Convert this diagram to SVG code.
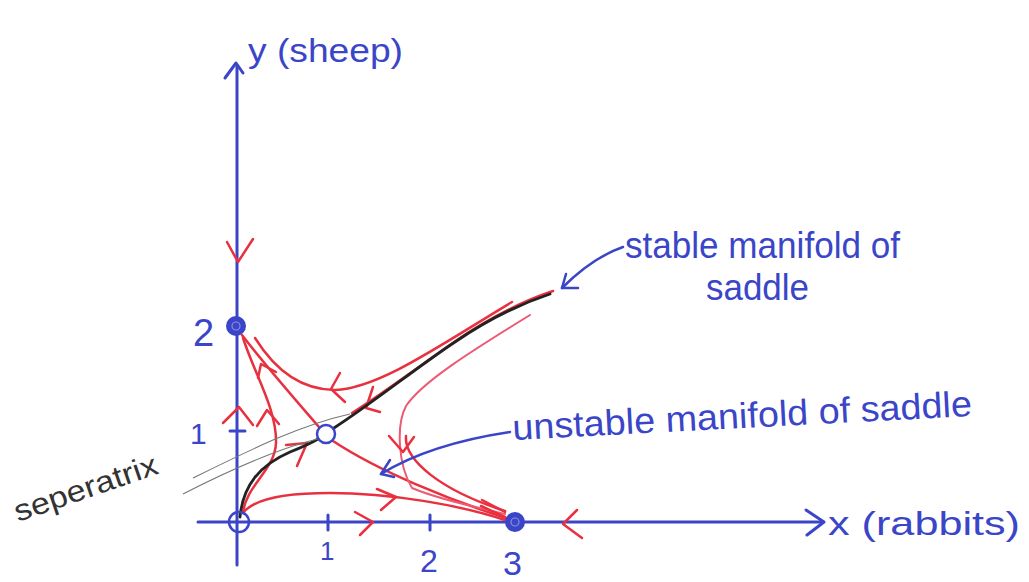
<svg xmlns="http://www.w3.org/2000/svg" width="1029" height="582" viewBox="0 0 1029 582">
<style>
.ax{stroke:#3a45c8;stroke-width:3;fill:none;stroke-linecap:round;stroke-linejoin:round}
.bl{stroke:#3a45c8;stroke-width:2.5;fill:none;stroke-linecap:round;stroke-linejoin:round}
.rd{stroke:#e8303f;stroke-width:2.5;fill:none;stroke-linecap:round;stroke-linejoin:round}
.pk{stroke:#ee5a72;stroke-width:2;fill:none;stroke-linecap:round}
.bk{stroke:#222;stroke-width:2.8;fill:none;stroke-linecap:round}
.gr{stroke:#777;stroke-width:1.1;fill:none}
.t{font-family:"Liberation Sans",Arial,sans-serif;fill:#3a45c8}
.ts{font-family:"Liberation Sans",Arial,sans-serif;fill:#333}
</style>
<rect width="1029" height="582" fill="#fff"/>
<g id="axes">
<path class="ax" d="M237,565 L237,66"/>
<path class="ax" d="M225,78 L236,63 L243,73"/>
<path class="ax" d="M198,522 L822,522"/>
<path class="ax" d="M806,510 L824,522 L807,535"/>
<path class="ax" d="M230,431 L245,431 M328,515 L328,530 M430,515 L430,530"/>
</g>
<g id="connectors">
<path class="rd" d="M242,335 C265,365 300,405 319,427"/>
<path class="rd" d="M333,441 C380,472 450,500 506,518"/>
<path class="rd" d="M243,513 C246,485 275,470 276,443 C277,410 255,375 243,338"/>
<path class="rd" d="M257,426 L267,410 L279,424"/>
<path class="rd" d="M258,378 L261,364 L276,372"/>
<path class="rd" d="M512,302 C440,345 380,388 335,390 C300,390 275,370 255,338"/>
<path class="rd" d="M340,373 L331,389 L345,402"/>
<path class="rd" d="M553,291 C520,302 490,318 460,338 C425,362 385,392 352,413"/>
<path class="rd" d="M373,387 L366,408 L380,412"/>
<path class="pk" d="M530,315 C470,352 422,382 406,406 C396,425 398,465 412,488 C440,500 480,508 505,514"/>
<path class="rd" d="M406,436 C404,460 440,490 505,511"/>
<path class="rd" d="M389,436 L403,452 L414,437"/>
<path class="rd" d="M243,513 C255,497 290,493 330,493 C390,493 460,505 505,520"/>
<path class="rd" d="M377,489 L396,497 L381,510"/>
<path class="rd" d="M286,445 L307,443 L297,466"/>
<path class="rd" d="M227,242 L238,262 L253,239"/>
<path class="rd" d="M223,423 L239,407 L253,425"/>
<path class="rd" d="M355,512 L373,522 L360,535"/>
<path class="rd" d="M577,510 L563,524 L582,538"/>
<path class="rd" d="M482,500 L505,512 M481,506 L505,517"/>
<path class="bk" d="M240,517 C243,485 260,465 290,452 C305,446 313,442 318,439"/>
<path class="bk" d="M334,428 C370,405 420,365 455,342 C490,318 520,304 550,294"/>
<path class="gr" d="M193,478 C250,450 300,425 350,414"/>
<path class="gr" d="M183,494 C240,465 285,446 322,438"/>
<path class="bl" d="M623,247 C600,255 580,270 562,288"/>
<path class="bl" d="M566,274 L562,288 L578,288"/>
<path class="bl" d="M510,432 C470,438 420,450 381,474"/>
<path class="bl" d="M390,460 L381,474 L394,477"/>
</g>
<g id="node-origin">
<circle cx="239" cy="522" r="10" fill="none" stroke="#3a45c8" stroke-width="2.5"/>
</g>
<g id="node-0-2">
<circle cx="236" cy="326" r="9" fill="#3a45c8" stroke="#3a45c8" stroke-width="2"/>
<circle cx="236" cy="326" r="4" fill="none" stroke="#8890e0" stroke-width="1.2"/>
</g>
<g id="node-saddle">
<circle cx="326" cy="434" r="9" fill="#fff" stroke="#3a45c8" stroke-width="2.5"/>
</g>
<g id="node-3-0">
<circle cx="515" cy="522" r="9" fill="#3a45c8" stroke="#3a45c8" stroke-width="2"/>
<circle cx="515" cy="522" r="4" fill="none" stroke="#8890e0" stroke-width="1.2"/>
</g>
<g id="labels">
<text class="t" x="248" y="62" font-size="34" textLength="155" lengthAdjust="spacingAndGlyphs">y (sheep)</text>
<text class="t" x="828" y="535" font-size="34" textLength="192" lengthAdjust="spacingAndGlyphs">x (rabbits)</text>
<text class="t" x="625" y="258" font-size="36" textLength="275" lengthAdjust="spacingAndGlyphs">stable manifold of</text>
<text class="t" x="706" y="300" font-size="36" textLength="103" lengthAdjust="spacingAndGlyphs">saddle</text>
<text class="t" x="513" y="440" font-size="36" textLength="460" lengthAdjust="spacingAndGlyphs" transform="rotate(-3 513 440)">unstable manifold of saddle</text>
<text class="ts" x="18" y="522" font-size="30" textLength="150" lengthAdjust="spacingAndGlyphs" transform="rotate(-19 18 522)">seperatrix</text>
<text class="t" x="193" y="346" font-size="38">2</text>
<text class="t" x="190" y="444" font-size="30">1</text>
<text class="t" x="320" y="560" font-size="26">1</text>
<text class="t" x="420" y="572" font-size="32">2</text>
<text class="t" x="503" y="575" font-size="34">3</text>
</g>
</svg>
